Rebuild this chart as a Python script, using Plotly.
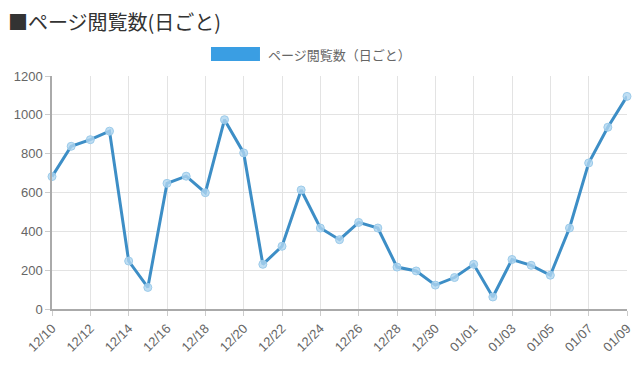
import plotly.graph_objects as go

dates = ["12/10", "12/11", "12/12", "12/13", "12/14", "12/15", "12/16", "12/17",
         "12/18", "12/19", "12/20", "12/21", "12/22", "12/23", "12/24", "12/25",
         "12/26", "12/27", "12/28", "12/29", "12/30", "12/31", "01/01", "01/02",
         "01/03", "01/04", "01/05", "01/06", "01/07", "01/08", "01/09"]
page_views = [682, 838, 872, 916, 247, 111, 647, 684, 599, 975, 804, 230, 323,
              613, 417, 357, 446, 417, 216, 196, 123, 162, 230, 62, 255, 225,
              174, 417, 752, 936, 1095]
tick_labels = dates[::2]
y_ticks = [0, 200, 400, 600, 800, 1000, 1200]

title_text = "■ページ閲覧数(日ごと)"
legend_text = "ページ閲覧数（日ごと）"

fig = go.Figure()
fig.add_trace(go.Scatter(
    x=dates, y=page_views, mode="lines+markers",
    line=dict(color="#3d8ec6", width=3),
    marker=dict(size=8, color="rgba(175,214,240,0.8)",
                line=dict(color="#9ccbea", width=1)),
    showlegend=False, cliponaxis=False,
))

fig.update_layout(
    width=632, height=373,
    margin=dict(l=44, r=13, t=68, b=72, autoexpand=False),
    paper_bgcolor="white", plot_bgcolor="white",
    font=dict(family="Liberation Sans, Arial, sans-serif", color="#666"),
    title=dict(text=title_text, xref="container", x=0.0, xanchor="left",
               yref="container", y=0.96, yanchor="middle", automargin=False,
               font=dict(family="Noto Sans CJK JP", size=20, color="#333")),
    xaxis=dict(type="category", range=[0, 30], tickmode="array",
               tickvals=tick_labels, ticktext=tick_labels, tickangle=-45,
               automargin=False,
               showgrid=True, gridcolor="#e3e3e3", gridwidth=1,
               showline=True, linecolor="#aaa", linewidth=1.5,
               ticks="outside", ticklen=5, tickcolor="#ccc",
               tickfont=dict(size=13, color="#666")),
    yaxis=dict(range=[0, 1200], tickvals=y_ticks, automargin=False,
               showgrid=True, gridcolor="#e3e3e3", gridwidth=1,
               showline=True, linecolor="#aaa", linewidth=1.5,
               ticks="outside", ticklen=5, tickcolor="#ccc",
               zeroline=False,
               tickfont=dict(size=13, color="#666")),
)

fig.add_shape(type="rect", xref="paper", yref="paper",
              x0=0.2765, x1=0.3617, y0=1.0644, y1=1.1245,
              fillcolor="#3a9ee3", line=dict(color="#3a9ee3", width=0))
fig.add_annotation(xref="paper", yref="paper", x=0.372, y=1.0944,
                   xanchor="left", yanchor="middle", showarrow=False,
                   text=legend_text,
                   font=dict(family="Noto Sans CJK JP", size=13, color="#666"))

fig.write_html("out.html")
